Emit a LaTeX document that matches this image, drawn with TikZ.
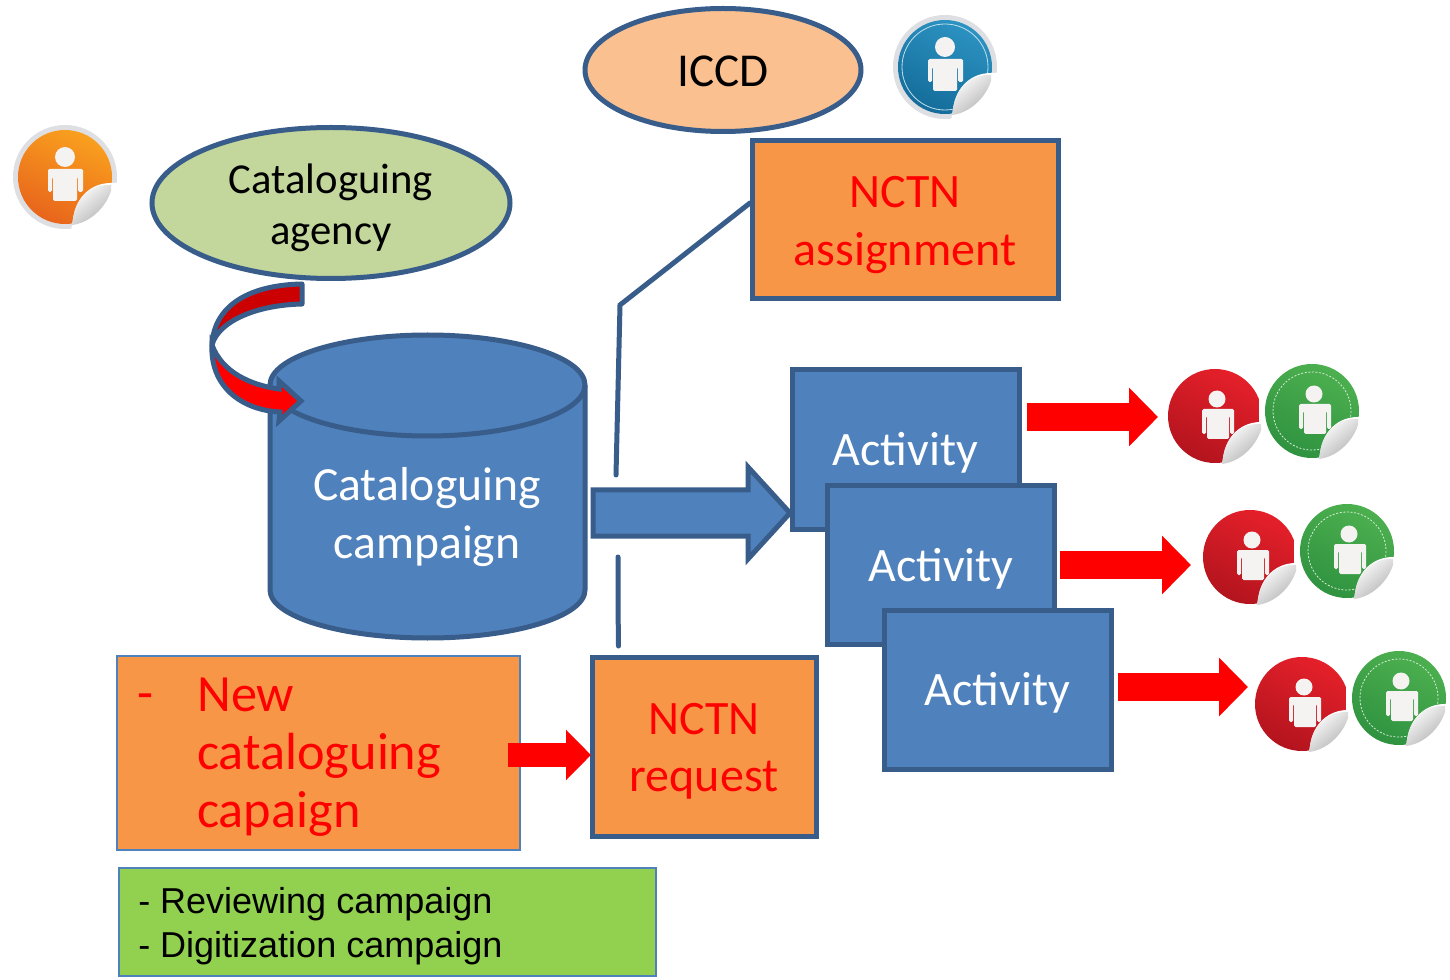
\documentclass[tikz,border=0pt]{standalone}
\usepackage{fontspec}
\setmainfont{Carlito}
\newfontfamily\arialfont{Liberation Sans}
\usetikzlibrary{shapes.geometric,arrows.meta}
\definecolor{edgeblue}{HTML}{385D8A}
\definecolor{thinblue}{HTML}{4F81BD}
\definecolor{fillblue}{HTML}{4F81BD}
\definecolor{fillorange}{HTML}{F79646}
\definecolor{fillpeach}{HTML}{FAC090}
\definecolor{fillsage}{HTML}{C3D69B}
\definecolor{fillgreen}{HTML}{92D050}
\definecolor{darkred}{HTML}{CC0000}
\definecolor{halo}{HTML}{DEDFE3}
\definecolor{figwhite}{HTML}{F4F3F2}
\definecolor{orangeA}{HTML}{F9A01E}
\definecolor{orangeB}{HTML}{E8651C}
\definecolor{redA}{HTML}{E5202A}
\definecolor{redB}{HTML}{B3141E}
\definecolor{greenA}{HTML}{4DB04F}
\definecolor{greenB}{HTML}{2F9240}
\definecolor{blueA}{HTML}{2C93C2}
\definecolor{blueB}{HTML}{146C9A}
\def\px{0.75pt}
\newcommand{\lbl}[2]{\fontsize{#1}{#2}\selectfont}
\newcommand{\tallrule}[1]{\rule{0pt}{#1}}
\tikzset{
  shapeedge/.style={draw=edgeblue,line width=5*\px,line join=miter},
  boxnode/.style={shapeedge,rectangle,inner sep=0pt},
  ovalnode/.style={shapeedge,ellipse,inner sep=0pt,align=center,font=\lbl{32}{38.5}},
  activitybox/.style={boxnode,fill=fillblue,text=white,minimum width=227*\px,minimum height=159*\px,font=\lbl{36}{43}},
  orangebox/.style={boxnode,fill=fillorange,text=red,align=center,font=\lbl{36}{43}},
  redarrow/.style={draw=red,line width=28*\px,-{Triangle[length=29*\px,width=57*\px]}},
  smallredarrow/.style={draw=red,line width=24*\px,-{Triangle[length=25*\px,width=49*\px]}},
  thinbox/.style={rectangle,draw=thinblue,line width=1.6*\px,inner sep=0pt},
  linkline/.style={draw=edgeblue,line width=5*\px,line cap=round},
}
% sticker: centre x, centre y, colour A, colour B, mode (0 plain, 1 halo, 2 cut at the right), extras
\newcommand{\usticker}[6]{%
  \begin{scope}[shift={(#1,#2)}]
    \ifnum#5=1 \fill[halo] (0,0) circle[radius=52]; \fi
    \shade[top color=#3,bottom color=#4,shading angle=-25] (0,0) circle[radius=47];
    #6
    \ifnum#5=1
      \fill[figwhite] (0,-20) circle[radius=10];
      \fill[figwhite,rounded corners=1.5*\px] (-17,15)--(-17,-8)--(18,-8)--(18,15)--(13,15)--(13,0)--(12,0)--(12,24)--(-12,24)--(-12,0)--(-13,0)--(-13,15)--cycle;
    \else
      \fill[figwhite] (2,-17) circle[radius=8.5];
      \fill[figwhite,rounded corners=1.5*\px] (-13,18)--(-13,-7)--(19,-7)--(19,18)--(15,18)--(15,0)--(14,0)--(14,23)--(-8,23)--(-8,0)--(-9,0)--(-9,18)--cycle;
    \fi
    \ifnum#5=2 \fill[white] (43.5,-30) rectangle (50,30); \fi
    \fill[white] (46,6) .. controls (26,6) and (11,20) .. (8,42) -- (6,54) -- (56,54) -- (56,6) -- cycle;
    \shade[top color=white,bottom color=black!30,shading angle=40] (46,8) .. controls (26,7) and (11,20) .. (8,42) -- (7,48) .. controls (24,46) and (40,32) .. (46,14) -- cycle;
  \end{scope}}
\begin{document}
\begin{tikzpicture}[x=\px,y=-\px]
\useasboundingbox (0,0) rectangle (1450,980);
\fill[white] (0,0) rectangle (1450,980);

% cylinder
\draw[shapeedge,fill=fillblue] (270,385) -- (270,590) .. controls (270,616.5) and (340.5,638) .. (427.5,638) .. controls (514.5,638) and (585,616.5) .. (585,590) -- (585,385) .. controls (585,357.4) and (514.5,335) .. (427.5,335) .. controls (340.5,335) and (270,357.4) .. (270,385) -- cycle;
\draw[shapeedge] (270,385) .. controls (270,412.6) and (340.5,436) .. (427.5,436) .. controls (514.5,436) and (585,412.6) .. (585,385);
\node[text=white,align=center,font=\lbl{35.7}{43.5}] (campaign) at (427,517) {Cataloguing\\campaign};

% curved arrow
\draw[shapeedge,fill=darkred,line join=round] (302,284) .. controls (250,285) and (214,305) .. (212,345) .. controls (218,322) and (255,305) .. (302,304) -- cycle;
\draw[shapeedge,fill=red] (212,345) .. controls (210,385) and (240,410) .. (280,412) -- (279,421) -- (301,401) -- (279,381) -- (279,389) .. controls (250,385) and (222,372) .. (212,345) -- cycle;

% ellipses
\node[ovalnode,fill=fillpeach,minimum width=276*\px,minimum height=123*\px,font=\lbl{35.4}{40}] (iccd) at (723,70) {\tallrule{25pt}ICCD};
\node[ovalnode,fill=fillsage,minimum width=358*\px,minimum height=151*\px] (agency) at (331,203) {\tallrule{30pt}Cataloguing\\agency};

% link lines
\node[orangebox,minimum width=306*\px,minimum height=158*\px] (assign) at (905,220) {\tallrule{31pt}NCTN\\assignment};
\node[orangebox,minimum width=224*\px,minimum height=179*\px] (request) at (704,747) {\tallrule{30pt}NCTN\\request};
\coordinate (linkA) at (750,203);
\coordinate (linkB) at (620,305);
\coordinate (linkC) at (616,475);
\coordinate (linkD) at (618,557);
\coordinate (linkE) at (618,604);
\coordinate (linkF) at (618.5,646);
\draw[linkline] (linkA) -- (linkB) -- (linkC);
\draw[linkline] (linkD) -- (linkE) -- (linkF);

% activities
\node[activitybox] (act1) at (905.5,449.5) {\tallrule{30pt}Activity};
\coordinate (blueTail) at (593,513);
\coordinate (blueTip) at (790,513);
\draw[shapeedge] [fill=fillblue] (blueTail) ++(0,-23) -- ++(155,0) -- ++(0,-23) -- (blueTip) -- ++(-42,46) -- ++(0,-23) -- ++(-155,0) -- cycle;
\node[activitybox] (act2) at (941,565) {\tallrule{30pt}Activity};
\node[activitybox] (act3) at (997.5,689.5) {\tallrule{30pt}Activity};

% red arrows
\coordinate (r1a) at (1027,417); \coordinate (r1b) at (1158,417);
\coordinate (r2a) at (1060,565); \coordinate (r2b) at (1191,565);
\coordinate (r3a) at (1118,687); \coordinate (r3b) at (1248,687);
\coordinate (r4a) at (508,755); \coordinate (r4b) at (591,755);
\draw[redarrow] (r1a) -- (r1b);
\draw[redarrow] (r2a) -- (r2b);
\draw[redarrow] (r3a) -- (r3b);

% requirement boxes
\node[thinbox,fill=fillorange,minimum width=403*\px,minimum height=194*\px] (newbox) at (318.5,753) {};
\node[anchor=west,inner sep=0pt,text=red,font=\lbl{39.2}{43.5}] (newdash) at (137,702) {-};
\node[anchor=west,inner sep=0pt,text=red,align=left,font=\lbl{39.2}{43.5}] (newtext) at (197,757) {New\\cataloguing\\capaign};
\draw[smallredarrow] (r4a) -- (r4b);
\node[thinbox,fill=fillgreen,minimum width=537*\px,minimum height=108*\px] (greenbox) at (387.5,922) {};
\node[anchor=west,inner sep=0pt,align=left,font={\arialfont\lbl{27}{33}}] (greentext) at (138,926) {- Reviewing campaign\\- Digitization campaign};

% stickers
\usticker{65}{177}{orangeA}{orangeB}{1}{}
\usticker{945}{67}{blueA}{blueB}{1}{\draw[white!70!blueA,line width=0.8*\px] (0,0) circle[radius=43];}
\usticker{1215}{416}{redA}{redB}{2}{}
\usticker{1312}{411}{greenA}{greenB}{0}{\draw[white!75!greenA,line width=0.8*\px,dash pattern=on 1.5pt off 1.2pt] (0,0) circle[radius=39];}
\usticker{1250}{557}{redA}{redB}{2}{}
\usticker{1347}{551}{greenA}{greenB}{0}{\draw[white!75!greenA,line width=0.8*\px,dash pattern=on 1.5pt off 1.2pt] (0,0) circle[radius=39];}
\usticker{1302}{704}{redA}{redB}{2}{}
\usticker{1399}{698}{greenA}{greenB}{0}{\draw[white!75!greenA,line width=0.8*\px,dash pattern=on 1.5pt off 1.2pt] (0,0) circle[radius=39];}
\end{tikzpicture}
\end{document}
